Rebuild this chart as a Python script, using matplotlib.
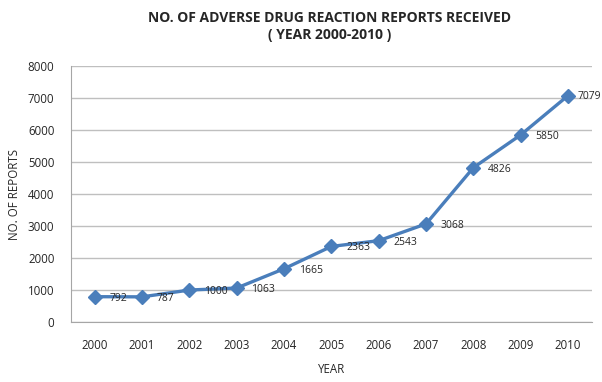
import matplotlib
matplotlib.use("Agg")
import matplotlib.pyplot as plt

years = ["2000", "2001", "2002", "2003", "2004", "2005", "2006", "2007", "2008", "2009", "2010"]
reports = [792, 787, 1000, 1063, 1665, 2363, 2543, 3068, 4826, 5850, 7079]
yticks = [0, 1000, 2000, 3000, 4000, 5000, 6000, 7000, 8000]

plt.rcParams['font.family'] = ['Open Sans', 'DejaVu Sans']

fig = plt.figure(figsize=(6.02, 3.82), dpi=100)
ax = fig.add_axes([0.118, 0.157, 0.865, 0.670])

x = list(range(len(years)))
ax.plot(x, reports, color='#4A7EBB', linewidth=2.4, marker='D', markersize=7.5,
        markerfacecolor='#4A7EBB', markeredgecolor='#4A7EBB', zorder=3)
for i, (xi, v) in enumerate(zip(x, reports)):
    dx = 10.5 if i < len(reports) - 1 else 7
    ax.annotate(str(v), (xi, v), xytext=(dx, -1), textcoords='offset points',
                fontsize=7.5, color='#262626', va='center', ha='left', zorder=4,
                annotation_clip=False)

ax.set_xlim(-0.5, len(years) - 0.5)
ax.set_ylim(0, 8000)
ax.set_yticks(yticks)
ax.set_xticks(x)
ax.set_xticklabels(years)
ax.grid(axis='y', color='#BFBFBF', linewidth=1.0)
ax.set_axisbelow(True)
for s in ['top', 'right']:
    ax.spines[s].set_visible(False)
for s in ['left', 'bottom']:
    ax.spines[s].set_color('#A6A6A6')
ax.tick_params(axis='both', length=0, labelsize=8.3, colors='#262626')
ax.tick_params(axis='x', pad=12)
ax.tick_params(axis='y', pad=12)

ax.set_xlabel('YEAR', fontsize=8.3, color='#262626', labelpad=8)
ax.set_ylabel('NO. OF REPORTS', fontsize=8.3, color='#262626', labelpad=5)

fig.text(0.548, 0.972, 'NO. OF ADVERSE DRUG REACTION REPORTS RECEIVED\n( YEAR 2000-2010 )',
         ha='center', va='top', fontsize=10, fontweight='bold', color='#262626',
         linespacing=1.3)

fig.savefig('out.png', dpi=100)
